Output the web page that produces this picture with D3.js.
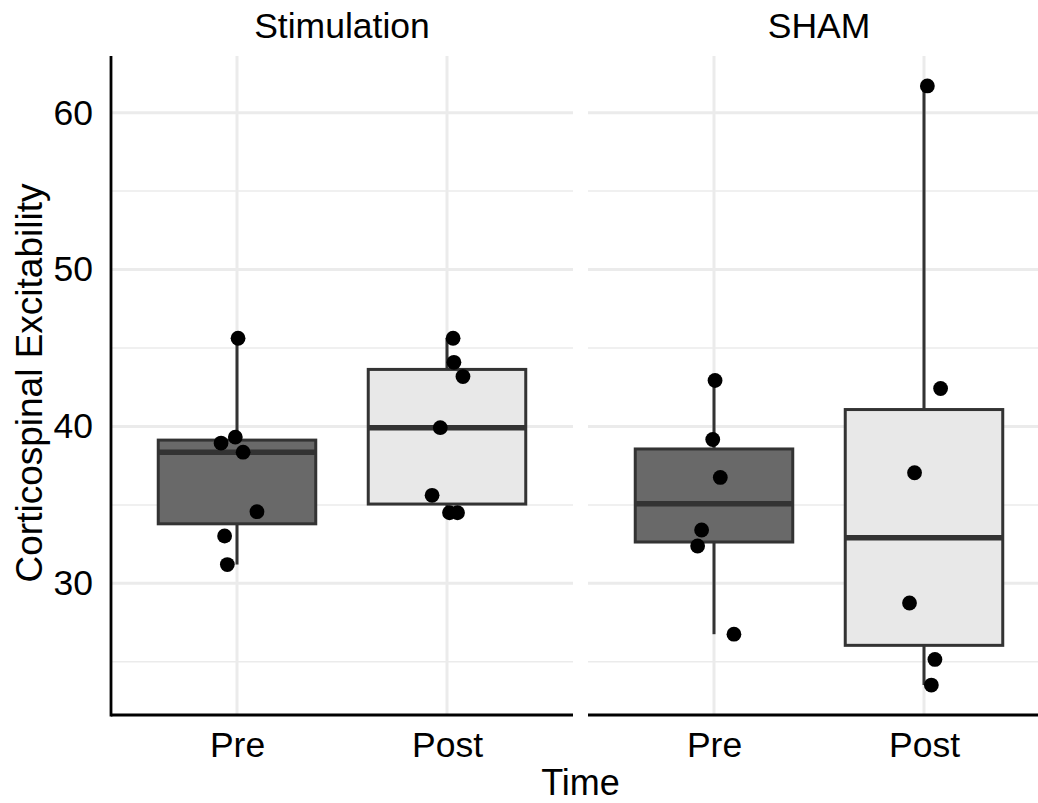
<!DOCTYPE html>
<html>
<head>
<meta charset="utf-8">
<script src="https://cdn.jsdelivr.net/npm/d3@7"></script>
<style>
  body { margin: 0; background: #fff; }
  text { font-family: "Liberation Sans", Arial, sans-serif; }
</style>
</head>
<body>
<div id="chart"></div>
<script>
"use strict";

// facets, categories and ticks
var facets = ["Stimulation", "SHAM"];
var times = ["Pre", "Post"];
var yTicks = [30, 40, 50, 60];
var yMinor = [25, 35, 45, 55];

// values, one array per box
var stimPre = [45.62, 39.32, 38.94, 38.36, 34.57, 33.02, 31.20];
var stimPost = [45.62, 44.09, 43.18, 39.92, 35.61, 34.50, 34.50];
var shamPre = [42.93, 39.17, 36.75, 33.40, 32.38, 26.76];
var shamPost = [61.70, 42.42, 37.05, 28.75, 25.15, 23.52];

// horizontal jitter of each point, in category widths
var stimPreJit = [0.005, -0.008, -0.076, 0.029, 0.095, -0.059, -0.046];
var stimPostJit = [0.029, 0.033, 0.076, -0.032, -0.071, 0.012, 0.050];
var shamPreJit = [0.005, -0.006, 0.030, -0.059, -0.078, 0.095];
var shamPostJit = [0.016, 0.079, -0.045, -0.069, 0.052, 0.035];

var groups = [
    { facet: "Stimulation", time: "Pre", values: stimPre, jitter: stimPreJit },
    { facet: "Stimulation", time: "Post", values: stimPost, jitter: stimPostJit },
    { facet: "SHAM", time: "Pre", values: shamPre, jitter: shamPreJit },
    { facet: "SHAM", time: "Post", values: shamPost, jitter: shamPostJit }
];

var fills = { "Pre": "#696969", "Post": "#e8e8e8" };

var width = 1038, height = 803;
var panelTop = 56, panelBottom = 715;
var panelW = 462;
var panelX = { "Stimulation": 111, "SHAM": 588 };

var svg = d3.select("#chart").append("svg")
    .attr("width", width)
    .attr("height", height);

// y scale with ggplot's 5% expansion
var all = d3.merge(groups.map(function(g){ return g.values; }));
var ext = d3.extent(all);
var pad = (ext[1] - ext[0]) * 0.05;
var yScale = d3.scaleLinear()
    .domain([ext[0] - pad, ext[1] + pad])
    .range([panelBottom, panelTop]);

var xScale = d3.scalePoint()
    .domain(times)
    .range([0, panelW])
    .padding(0.6);

function boxStats(vals)
{
    var s = vals.slice().sort(d3.ascending);
    var q1 = d3.quantile(s, 0.25),
        med = d3.quantile(s, 0.5),
        q3 = d3.quantile(s, 0.75);
    var iqr = q3 - q1;
    var lo = d3.min(s.filter(function(v){ return v >= q1 - 1.5 * iqr; }));
    var hi = d3.max(s.filter(function(v){ return v <= q3 + 1.5 * iqr; }));
    return { q1: q1, med: med, q3: q3, lo: lo, hi: hi };
}

facets.forEach(function(f)
{
    var g = svg.append("g")
        .attr("transform", "translate(" + panelX[f] + ",0)");

    // grid
    g.selectAll(".minor").data(yMinor).enter().append("line")
        .attr("x1", 0).attr("x2", panelW)
        .attr("y1", function(d){ return yScale(d); })
        .attr("y2", function(d){ return yScale(d); })
        .style("stroke", "#ebebeb").style("stroke-width", 1.5);

    g.selectAll(".major").data(yTicks).enter().append("line")
        .attr("x1", 0).attr("x2", panelW)
        .attr("y1", function(d){ return yScale(d); })
        .attr("y2", function(d){ return yScale(d); })
        .style("stroke", "#ebebeb").style("stroke-width", 3);

    g.selectAll(".vgrid").data(times).enter().append("line")
        .attr("x1", function(d){ return xScale(d); })
        .attr("x2", function(d){ return xScale(d); })
        .attr("y1", panelTop).attr("y2", panelBottom)
        .style("stroke", "#ebebeb").style("stroke-width", 3);

    var boxW = xScale.step() * 0.75;

    groups.filter(function(d){ return d.facet == f; }).forEach(function(d)
    {
        var st = boxStats(d.values);
        var cx = xScale(d.time);

        g.append("line")
            .attr("x1", cx).attr("x2", cx)
            .attr("y1", yScale(st.hi)).attr("y2", yScale(st.q3))
            .style("stroke", "#333333").style("stroke-width", 3);
        g.append("line")
            .attr("x1", cx).attr("x2", cx)
            .attr("y1", yScale(st.q1)).attr("y2", yScale(st.lo))
            .style("stroke", "#333333").style("stroke-width", 3);

        g.append("rect")
            .attr("x", cx - boxW / 2)
            .attr("y", yScale(st.q3))
            .attr("width", boxW)
            .attr("height", yScale(st.q1) - yScale(st.q3))
            .style("fill", fills[d.time])
            .style("stroke", "#333333")
            .style("stroke-width", 3);

        g.append("line")
            .attr("x1", cx - boxW / 2).attr("x2", cx + boxW / 2)
            .attr("y1", yScale(st.med)).attr("y2", yScale(st.med))
            .style("stroke", "#333333").style("stroke-width", 5.5);

        g.selectAll(null).data(d.values).enter().append("circle")
            .attr("cx", function(v, i){ return cx + d.jitter[i] * xScale.step(); })
            .attr("cy", function(v){ return yScale(v); })
            .attr("r", 7.4)
            .style("fill", "#000");
    });

    // x axis
    var xAxis = d3.axisBottom(xScale).tickSize(0).tickPadding(16.7);
    var ax = g.append("g")
        .attr("transform", "translate(0," + panelBottom + ")")
        .call(xAxis);
    ax.select(".domain").remove();
    ax.selectAll("text")
        .style("font-size", "35.5px")
        .style("fill", "#000");

    g.append("line")
        .attr("x1", 0).attr("x2", panelW)
        .attr("y1", panelBottom).attr("y2", panelBottom)
        .style("stroke", "#000").style("stroke-width", 2.8);

    // strip label
    g.append("text")
        .attr("x", panelW / 2)
        .attr("y", 38.3)
        .attr("text-anchor", "middle")
        .style("font-size", "35.5px")
        .text(f);
});

// y axis on left panel
var yAxis = d3.axisLeft(yScale).tickValues(yTicks).tickSize(0).tickPadding(18);
var ay = svg.append("g")
    .attr("transform", "translate(" + panelX["Stimulation"] + ",0)")
    .call(yAxis);
ay.select(".domain").remove();
ay.selectAll("text")
    .style("font-size", "35.5px")
    .style("fill", "#000");

svg.append("line")
    .attr("x1", panelX["Stimulation"]).attr("x2", panelX["Stimulation"])
    .attr("y1", panelTop).attr("y2", panelBottom + 1.4)
    .style("stroke", "#000").style("stroke-width", 2.8);

// axis titles
svg.append("text")
    .attr("transform", "translate(41.5,383) rotate(-90)")
    .attr("text-anchor", "middle")
    .style("font-size", "37px")
    .text("Corticospinal Excitability");

svg.append("text")
    .attr("x", (panelX["Stimulation"] + panelX["SHAM"] + panelW) / 2)
    .attr("y", 795)
    .attr("text-anchor", "middle")
    .style("font-size", "36px")
    .text("Time");
</script>
</body>
</html>
